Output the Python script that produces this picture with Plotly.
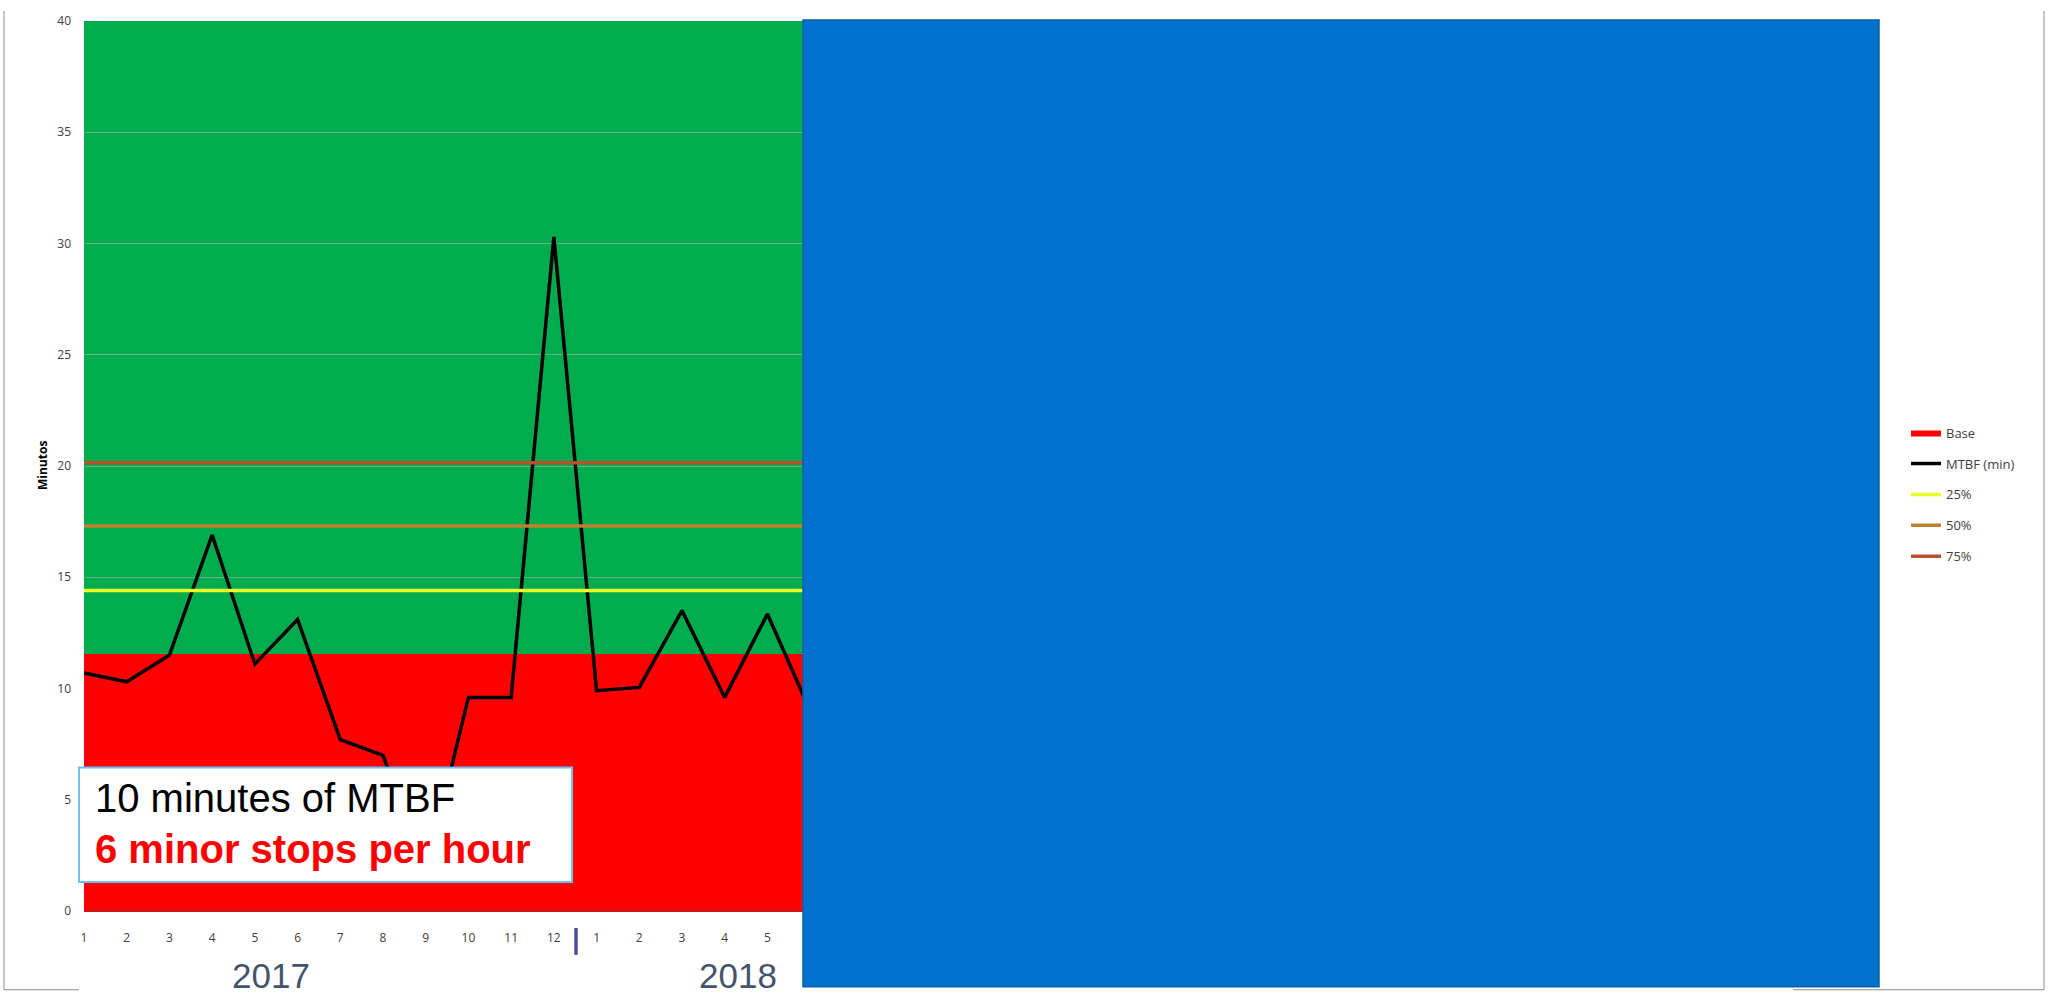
import plotly.graph_objects as go

# ---------------- data ----------------
years = ["2017", "2018", "2019", "2020"]
months_per_year = [12, 12, 12, 7]
month_labels = [str(m) for n in months_per_year for m in range(1, n + 1)]

mtbf_min = [10.7, 10.3, 11.5, 16.9, 11.1, 13.1, 7.7, 7.0, 1.7, 9.6, 9.6, 30.3,
            9.9, 10.05, 13.5, 9.6, 13.35, 9.0]
base_level = 11.55
p25 = 14.4
p50 = 17.3
p75 = 20.15

# ---------------- layout geometry (pixels) ----------------
W, H = 2049, 996
L, R, T, B = 84, 1878, 18, 911


def px_x(x):
    return (x - L) / (R - L)


def px_y(y):
    return (B - y) / (B - T)


n = len(month_labels)
xs = list(range(n))
xs_mtbf = list(range(len(mtbf_min)))

fig = go.Figure()

fig.add_trace(go.Scatter(x=xs, y=[base_level] * n, name="Base", mode="lines",
                         fill="tozeroy", fillcolor="#FF0000",
                         line=dict(color="#FF0000", width=0),
                         legendgroup="a", hoverinfo="skip"))
fig.add_trace(go.Scatter(x=xs_mtbf, y=mtbf_min, name="MTBF (min)", mode="lines",
                         line=dict(color="#000000", width=3.5), legendgroup="b"))
fig.add_trace(go.Scatter(x=xs, y=[p25] * n, name="25%", mode="lines",
                         line=dict(color="#E8FF2A", width=3.5), legendgroup="c"))
fig.add_trace(go.Scatter(x=xs, y=[p50] * n, name="50%", mode="lines",
                         line=dict(color="#BC822E", width=3.5), legendgroup="d"))
fig.add_trace(go.Scatter(x=xs, y=[p75] * n, name="75%", mode="lines",
                         line=dict(color="#B8502C", width=3.5), legendgroup="e"))

# year labels hidden behind the blue panel (2019, 2020): drawn as a text trace so the panel covers them
year_px = [271, 738, 1212, 1634]
yr_val = -(979 - B) / ((B - T) / 40.0)
fig.add_trace(go.Scatter(
    x=[(p - L) / ((R - L) / (n - 1)) for p in year_px[2:]],
    y=[yr_val, yr_val], mode="text", text=years[2:],
    textfont=dict(family="Liberation Sans, Arial", size=35, color="#44546A"),
    cliponaxis=False, showlegend=False, hoverinfo="skip"))

shapes = []
# blue cover panel
shapes.append(dict(type="rect", xref="paper", yref="paper",
                   x0=px_x(803), x1=px_x(1879), y0=px_y(987), y1=px_y(17),
                   fillcolor="#0072CE", line=dict(color="#0A5FA8", width=1.5),
                   layer="above"))
# text box
shapes.append(dict(type="rect", xref="paper", yref="paper",
                   x0=px_x(79), x1=px_x(572), y0=px_y(882), y1=px_y(767),
                   fillcolor="#FFFFFF", line=dict(color="#6CC0F4", width=2),
                   layer="above"))
# year divider
shapes.append(dict(type="line", xref="paper", yref="paper",
                   x0=px_x(576), x1=px_x(576), y0=px_y(955), y1=px_y(928),
                   line=dict(color="#5050A0", width=3.5), layer="above"))
# outer chart border
bc = "#8C8C8C"
for (x0, y0, x1, y1) in [(4, 8, 4, 990), (4, 990, 79, 990), (1793, 990, 2044, 990), (2044, 8, 2044, 990)]:
    shapes.append(dict(type="line", xref="paper", yref="paper",
                       x0=px_x(x0), x1=px_x(x1), y0=px_y(y0), y1=px_y(y1),
                       line=dict(color=bc, width=1), layer="above"))

annotations = [
    dict(xref="paper", yref="paper", x=px_x(93), y=px_y(798), xanchor="left", yanchor="middle",
         text="10 minutes of MTBF", showarrow=False,
         font=dict(family="Liberation Sans, Arial", size=40, color="#000000")),
    dict(xref="paper", yref="paper", x=px_x(93), y=px_y(849), xanchor="left", yanchor="middle",
         text="<b>6 minor stops per hour</b>", showarrow=False,
         font=dict(family="Liberation Sans, Arial", size=40, color="#FF0000")),
    dict(xref="paper", yref="paper", x=px_x(year_px[0]), y=px_y(976), xanchor="center", yanchor="middle",
         text=years[0], showarrow=False,
         font=dict(family="Liberation Sans, Arial", size=35, color="#44546A")),
    dict(xref="paper", yref="paper", x=px_x(year_px[1]), y=px_y(976), xanchor="center", yanchor="middle",
         text=years[1], showarrow=False,
         font=dict(family="Liberation Sans, Arial", size=35, color="#44546A")),
    dict(xref="paper", yref="paper", x=px_x(42), y=0.5, xanchor="center", yanchor="middle",
         text="<b>Minutos</b>", textangle=-90, showarrow=False,
         font=dict(family="Open Sans, Arial", size=12, color="#000000")),
]

fig.update_layout(
    width=W, height=H,
    margin=dict(l=L, r=W - R, t=T, b=H - B, pad=0),
    paper_bgcolor="#FFFFFF",
    plot_bgcolor="#00AC4E",
    showlegend=True,
    legend=dict(x=px_x(1906), y=px_y(416), xanchor="left", yanchor="top",
                font=dict(family="Open Sans, Arial", size=13, color="#404040"),
                bgcolor="rgba(0,0,0,0)", tracegroupgap=11, traceorder="grouped"),
    xaxis=dict(range=[0, n - 1], tickmode="array", tickvals=xs[:-1], ticktext=month_labels[:-1],
               showgrid=False, zeroline=False, showline=True, linecolor="#B02028", linewidth=1,
               ticks="", ticklabelstandoff=16,
               tickfont=dict(family="Open Sans, Arial", size=12, color="#404040")),
    yaxis=dict(range=[0, 40], dtick=5, showgrid=True, gridcolor="rgba(200,200,200,0.45)",
               gridwidth=1, zeroline=False, showline=False, ticks="", ticklabelstandoff=12,
               tickfont=dict(family="Open Sans, Arial", size=12, color="#404040")),
    shapes=shapes,
    annotations=annotations,
)

fig.write_html("out.html")
